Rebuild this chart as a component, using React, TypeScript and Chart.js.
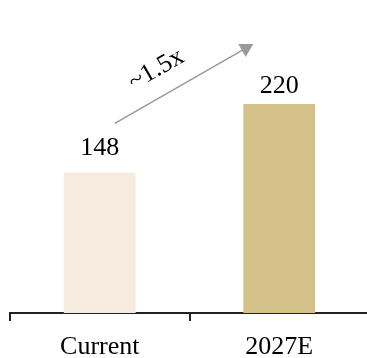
import React, { useEffect, useRef } from "react";
import { Chart, registerables } from "chart.js";

Chart.register(...registerables);

const categories = ["Current", "2027E"];
const values = [148, 220];
const barColors = ["#F5EBDE", "#D4C18A"];
const growthLabel = "~1.5x";
const labelOffsets = [17, 11];

const FONT = "'Liberation Serif', 'Times New Roman', serif";

const valueLabelPlugin = {
  id: "valueLabels",
  afterDatasetsDraw(chart: any) {
    const ctx = chart.ctx;
    const meta = chart.getDatasetMeta(0);
    ctx.save();
    ctx.font = `26px ${FONT}`;
    ctx.fillStyle = "#000";
    ctx.textAlign = "center";
    ctx.textBaseline = "alphabetic";
    meta.data.forEach((bar: any, i: number) => {
      ctx.fillText(String(values[i]), bar.x, bar.y - labelOffsets[i]);
    });
    ctx.restore();
  },
};

const arrowPlugin = {
  id: "growthArrow",
  afterDatasetsDraw(chart: any) {
    const ctx = chart.ctx;
    const xs = chart.scales.x;
    const ys = chart.scales.y;
    const x0 = xs.getPixelForValue(0) + 15;
    const y0 = ys.getPixelForValue(values[0]) - 49;
    const x1 = xs.getPixelForValue(1) - 26;
    const y1 = ys.getPixelForValue(values[1]) - 60;
    const ang = Math.atan2(y1 - y0, x1 - x0);
    const ux = Math.cos(ang), uy = Math.sin(ang);
    const headLen = 13, headHalf = 7.5;
    ctx.save();
    ctx.strokeStyle = "#999999";
    ctx.fillStyle = "#999999";
    ctx.lineWidth = 1.5;
    ctx.beginPath();
    ctx.moveTo(x0, y0);
    ctx.lineTo(x1 - ux * headLen * 0.8, y1 - uy * headLen * 0.8);
    ctx.stroke();
    const bx = x1 - ux * headLen, by = y1 - uy * headLen;
    ctx.beginPath();
    ctx.moveTo(x1, y1);
    ctx.lineTo(bx - uy * headHalf, by + ux * headHalf);
    ctx.lineTo(bx + uy * headHalf, by - ux * headHalf);
    ctx.closePath();
    ctx.fill();
    const mx = (x0 + x1) / 2, my = (y0 + y1) / 2;
    const nx = uy, ny = -ux;
    const tx = mx - ux * 17 + nx * 26;
    const ty = my - uy * 17 + ny * 26;
    ctx.translate(tx, ty);
    ctx.rotate(ang);
    ctx.font = `26px ${FONT}`;
    ctx.fillStyle = "#000";
    ctx.textAlign = "center";
    ctx.textBaseline = "middle";
    ctx.fillText(growthLabel, 0, 0);
    ctx.restore();
  },
};

export default function App() {
  const ref = useRef<HTMLCanvasElement | null>(null);
  useEffect(() => {
    if (!ref.current) return;
    const chart = new Chart(ref.current, {
      type: "bar",
      data: {
        labels: categories,
        datasets: [
          {
            data: values,
            backgroundColor: barColors,
            borderWidth: 0,
            barPercentage: 0.4,
            categoryPercentage: 1,
          },
        ],
      },
      options: {
        responsive: false,
        animation: false,
        devicePixelRatio: 1,
        layout: { padding: { left: 10, right: 0, top: 28, bottom: 0 } },
        plugins: { legend: { display: false }, tooltip: { enabled: false } },
        scales: {
          x: {
            offset: true,
            grid: {
              offset: true,
              drawOnChartArea: false,
              drawTicks: true,
              tickLength: 8,
              color: "#222",
              lineWidth: 2,
            },
            border: { display: true, color: "#222", width: 2 },
            ticks: {
              color: "#000",
              padding: 13,
              font: { family: FONT, size: 26, lineHeight: 1 },
            },
          },
          y: {
            display: false,
            min: 0,
            max: 300,
          },
        },
      },
      plugins: [valueLabelPlugin, arrowPlugin],
    });
    return () => chart.destroy();
  }, []);
  return (
    <div style={{ position: "fixed", left: 0, top: 0, width: 367, height: 358, overflow: "hidden" }}>
      <canvas ref={ref} width={369} height={373} style={{ width: 369, height: 373, display: "block" }} />
    </div>
  );
}
